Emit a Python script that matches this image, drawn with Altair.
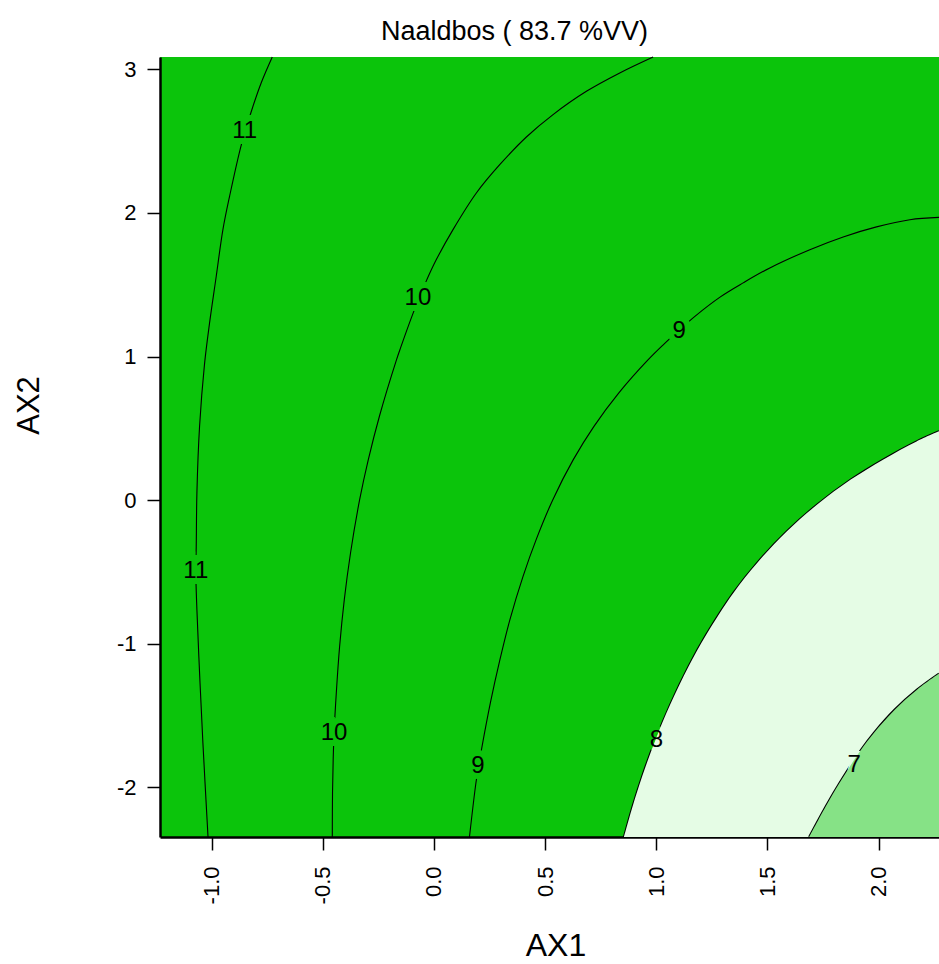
import altair as alt
import pandas as pd

# ---- chart text -------------------------------------------------------
TITLE = "Naaldbos ( 83.7 %VV)"
X_TITLE = "AX1"
Y_TITLE = "AX2"

# ---- axes -------------------------------------------------------------
X_DOMAIN = [-1.232, 2.272]
Y_DOMAIN = [-2.346, 3.086]
X_TICKS = [-1.0, -0.5, 0.0, 0.5, 1.0, 1.5, 2.0]
Y_TICKS = [-2, -1, 0, 1, 2, 3]

# ---- contour lines of the fitted surface (AX1, AX2 pairs) -------------
c11_x = [-0.727, -0.777, -0.821, -0.866, -0.919, -0.949, -0.979, -1.009, -1.032,
         -1.054, -1.066, -1.069, -1.071, -1.066, -1.054, -1.039, -1.016]
c11_y = [3.086, 2.905, 2.708, 2.476, 2.116, 1.884, 1.559, 1.234, 0.944,
         0.514, 0.050, -0.322, -0.496, -0.763, -1.203, -1.691, -2.346]

c10_x = [0.986, 0.836, 0.686, 0.536, 0.416, 0.296, 0.191, 0.086, 0.011, -0.038,
         -0.066, -0.093, -0.150, -0.168, -0.245, -0.295, -0.334, -0.375, -0.403,
         -0.424, -0.439, -0.449, -0.453, -0.456, -0.457]
c10_y = [3.086, 2.975, 2.847, 2.685, 2.529, 2.336, 2.139, 1.884, 1.675, 1.513,
         1.408, 1.304, 1.060, 0.978, 0.584, 0.282, 0.003, -0.368, -0.693,
         -1.018, -1.343, -1.621, -1.807, -2.039, -2.346]

c9_x = [2.272, 2.141, 1.991, 1.841, 1.691, 1.511, 1.391, 1.287, 1.174, 1.097,
        1.036, 0.964, 0.832, 0.720, 0.627, 0.535, 0.460, 0.401, 0.342, 0.297,
        0.254, 0.214, 0.201, 0.189, 0.160]
c9_y = [1.969, 1.953, 1.903, 1.833, 1.744, 1.617, 1.513, 1.414, 1.280, 1.175,
        1.088, 0.978, 0.747, 0.514, 0.282, 0.003, -0.275, -0.531, -0.832, -1.111,
        -1.412, -1.737, -1.854, -1.970, -2.346]

c8_x = [2.272, 2.171, 2.020, 1.875, 1.724, 1.588, 1.454, 1.347, 1.225, 1.146,
        1.063, 0.997, 0.937, 0.894, 0.855]
c8_y = [0.479, 0.409, 0.282, 0.143, -0.031, -0.217, -0.437, -0.646, -0.937, -1.157,
        -1.424, -1.668, -1.923, -2.132, -2.346]

c7_x = [2.272, 2.173, 2.073, 1.979, 1.922, 1.825, 1.763, 1.688]
c7_y = [-1.208, -1.320, -1.459, -1.621, -1.737, -1.969, -2.132, -2.346]

# ---- contour labels ---------------------------------------------------
label_level = [11, 11, 10, 10, 9, 9, 8, 7]
label_x = [-0.851, -1.071, -0.072, -0.449, 1.103, 0.198, 1.001, 1.890]
label_y = [2.568, -0.496, 1.408, -1.621, 1.175, -1.854, -1.668, -1.842]

# ---- colours ----------------------------------------------------------
GREEN = "#0BC40B"   # surface above 8
PALE = "#E5FCE5"    # between 7 and 8
MID = "#86E286"     # below 7
# each label is cut out of its line with the colour of the band above it
LABEL_HALO = {11: GREEN, 10: GREEN, 9: GREEN, 8: GREEN, 7: PALE}

SANS = "Liberation Sans, Arial, sans-serif"
CURVE = "catmull-rom"

rows = []
for lvl, (xs_, ys_) in {11: (c11_x, c11_y), 10: (c10_x, c10_y),
                        9: (c9_x, c9_y)}.items():
    for i, (a, b) in enumerate(zip(xs_, ys_)):
        rows.append({"level": lvl, "seq": i, "x": a, "y": b})
upper_df = pd.DataFrame(rows)

band8 = pd.DataFrame({"x": c8_x, "y": c8_y, "floor": Y_DOMAIN[0]})
band7 = pd.DataFrame({"x": c7_x, "y": c7_y, "floor": Y_DOMAIN[0]})

labels_df = pd.DataFrame({
    "x": label_x, "y": label_y, "level": label_level,
    "label": [str(v) for v in label_level],
    "halo": [LABEL_HALO[v] for v in label_level],
})

PLOT_W, PLOT_H = 779, 780

signed = "(datum.value < 0 ? '-' : '') + format(abs(datum.value), '{}')"

x_axis = alt.Axis(
    values=X_TICKS, labelExpr=signed.format(".1f"), labelAngle=270,
    labelFont=SANS, labelFontSize=22, labelColor="black", labelPadding=16,
    labelFlush=False, labelOverlap=False,
    tickSize=13, tickWidth=1.5, tickColor="black",
    domainColor="black", domainWidth=2.5, grid=False,
    title=X_TITLE, titleFont=SANS, titleFontSize=32, titleFontWeight="normal",
    titleColor="black", titleX=PLOT_W / 2 + 6, titleY=118, titleAlign="center",
    titleBaseline="alphabetic",
)
y_axis = alt.Axis(
    values=Y_TICKS, labelExpr=signed.format("d"), labelAngle=0,
    labelFont=SANS, labelFontSize=22, labelColor="black", labelPadding=11,
    labelFlush=False, labelOverlap=False,
    tickSize=13, tickWidth=1.5, tickColor="black",
    domainColor="black", domainWidth=2.5, grid=False,
    title=Y_TITLE, titleFont=SANS, titleFontSize=31, titleFontWeight="normal",
    titleColor="black", titleAngle=270, titleX=-122, titleY=348,
    titleAlign="center", titleBaseline="alphabetic",
)

xs = alt.Scale(domain=X_DOMAIN, nice=False, zero=False)
ys = alt.Scale(domain=Y_DOMAIN, nice=False, zero=False)


def X():
    return alt.X("x:Q", scale=xs, axis=x_axis)


def Y():
    return alt.Y("y:Q", scale=ys, axis=y_axis)


def halo_layer(levels, width):
    return alt.Chart(labels_df).transform_filter(
        alt.FieldOneOfPredicate(field="level", oneOf=levels)
    ).mark_text(
        font=SANS, fontSize=24, align="center", baseline="middle", strokeWidth=width
    ).encode(x=X(), y=Y(), text="label:N",
             color=alt.Color("halo:N", scale=None),
             stroke=alt.Stroke("halo:N", scale=None))


upper_lines = alt.Chart(upper_df).mark_line(
    color="black", strokeWidth=1.1, interpolate=CURVE
).encode(x=X(), y=Y(), detail="level:N", order="seq:Q")

# the 8 and 7 lines sit under their own band, so only their outer half shows
line8 = alt.Chart(band8).mark_line(color="black", strokeWidth=2.2, interpolate=CURVE).encode(
    x=X(), y=Y())
area8 = alt.Chart(band8).mark_area(color=PALE, orient="vertical", interpolate=CURVE).encode(
    x=X(), y=Y(), y2="floor:Q")
line7 = alt.Chart(band7).mark_line(color="black", strokeWidth=2.2, interpolate=CURVE).encode(
    x=X(), y=Y())
area7 = alt.Chart(band7).mark_area(color=MID, orient="vertical", interpolate=CURVE).encode(
    x=X(), y=Y(), y2="floor:Q")

text = alt.Chart(labels_df).mark_text(
    font=SANS, fontSize=24, align="center", baseline="middle", color="black"
).encode(x=X(), y=Y(), text="label:N")

chart = (
    alt.layer(
        upper_lines, halo_layer([11, 10, 9], 12),
        line8, halo_layer([8], 8), area8,
        line7, halo_layer([7], 8), area7,
        text,
    )
    .properties(
        width=PLOT_W, height=PLOT_H,
        title=alt.TitleParams(TITLE, font=SANS, fontSize=27, fontWeight="normal",
                              color="black", anchor="middle", dx=-35, dy=32, offset=20,
                              baseline="alphabetic", frame="group"),
        padding={"left": 160, "top": 57, "right": 0, "bottom": 127},
        autosize=alt.AutoSizeParams(type="none"),
        background="white",
    )
    .configure_view(fill=GREEN, strokeWidth=0)
)

chart.save("out.html", embed_options={"renderer": "svg", "actions": False})
